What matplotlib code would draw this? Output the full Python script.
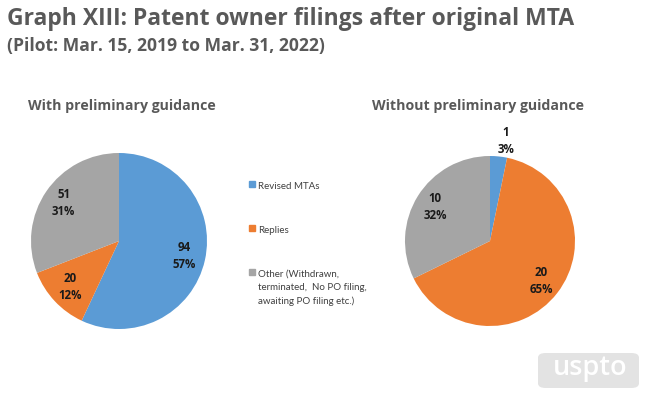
import numpy as np
import matplotlib
matplotlib.use('Agg')
import matplotlib.pyplot as plt
from matplotlib.patches import FancyBboxPatch, Rectangle

W, H = 647, 393

categories = ['Revised MTAs', 'Replies',
              'Other (Withdrawn,\nterminated,  No PO filing,\nawaiting PO filing etc.)']
with_guidance = [94, 20, 51]
without_guidance = [1, 20, 10]
colors = ['#5B9BD5', '#ED7D31', '#A5A5A5']

title_col = '#595959'
font = 'Open Sans'

fig = plt.figure(figsize=(W / 100, H / 100), dpi=100)
fig.patch.set_facecolor('white')

def px_axes(cx, cy, r):
    # axes box in pixels, centre (cx, cy) from top-left
    return fig.add_axes([(cx - r) / W, (H - cy - r) / H, 2 * r / W, 2 * r / H])

def draw_pie(ax, vals, dists, shift=None):
    total = sum(vals)
    wedges, _ = ax.pie(vals, colors=colors, startangle=90, counterclock=False,
                       radius=1, wedgeprops=dict(linewidth=0))
    for i, (w, v, d) in enumerate(zip(wedges, vals, dists)):
        ang = np.deg2rad((w.theta1 + w.theta2) / 2)
        x, y = d * np.cos(ang), d * np.sin(ang)
        if shift and i in shift:
            x += shift[i]
        pct = int(round(100 * v / total))
        ax.text(x, y, '{0}\n{1}%'.format(v, pct),
                ha='center', va='center', fontsize=8.3, fontweight='bold',
                color='#1a1a1a', family=font, linespacing=1.4)
    ax.set_xlim(-1, 1)
    ax.set_ylim(-1, 1)
    ax.set_aspect('equal')
    ax.axis('off')

ax1 = px_axes(119, 241, 88)
draw_pie(ax1, with_guidance, [0.76, 0.76, 0.76])

ax2 = px_axes(490, 241, 85)
draw_pie(ax2, without_guidance, [1.18, 0.76, 0.76], shift={0: 0.07})

# titles
fig.text(7 / W, 1 - 19 / H, 'Graph XIII: Patent owner filings after original MTA',
         fontsize=16.5, fontweight='bold', color=title_col, family=font,
         va='center', ha='left')
fig.text(7 / W, 1 - 46 / H, '(Pilot: Mar. 15, 2019 to Mar. 31, 2022)',
         fontsize=12.6, fontweight='bold', color=title_col, family=font,
         va='center', ha='left')
fig.text(28 / W, 1 - 106 / H, 'With preliminary guidance',
         fontsize=10.2, fontweight='bold', color=title_col, family=font,
         va='center', ha='left')
fig.text(372 / W, 1 - 106 / H, 'Without preliminary guidance',
         fontsize=10.2, fontweight='bold', color=title_col, family=font,
         va='center', ha='left')

# legend
leg_y = [184, 228, 272]
for c, lab, y in zip(colors, categories, leg_y):
    fig.patches.append(Rectangle((249 / W, 1 - (y + 3) / H), 6 / W, 6 / H,
                                 transform=fig.transFigure, color=c))
    fig.text(258 / W, 1 - (y - 2) / H, lab, fontsize=7, color='#404040',
             family='Lato', va='top', ha='left', linespacing=1.6)

# logo
fig.patches.append(FancyBboxPatch((538 / W, 1 - 388 / H), 101 / W, 35 / H,
                                  boxstyle='round,pad=0,rounding_size=0.012',
                                  transform=fig.transFigure,
                                  color='#e3e3e3', linewidth=0))
fig.text(590 / W, 1 - 368 / H, 'uspto', fontsize=19.5, color='white',
         family='Open Sans', fontweight='semibold', ha='center', va='center')

plt.savefig('out.png', dpi=100)
